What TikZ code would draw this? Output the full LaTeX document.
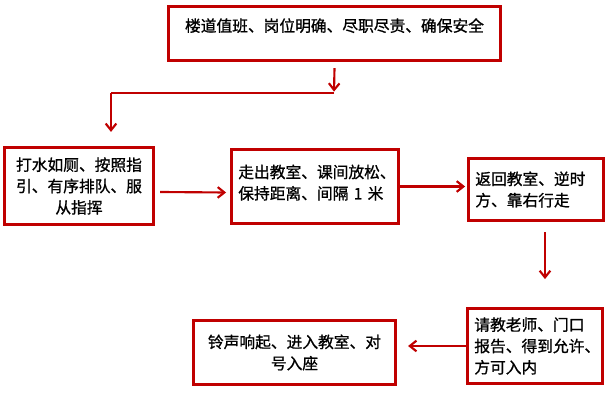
\documentclass[tikz,border=0pt]{standalone}
\usepackage{fontspec}
\setmainfont{Noto Sans CJK SC}[FakeBold=1]
\usetikzlibrary{arrows.meta,positioning,calc}
\definecolor{flowred}{RGB}{192,0,0}

\begin{document}
\begin{tikzpicture}[
    x=0.75pt, y=-0.75pt,
    stepbox/.style={rectangle, draw=flowred, line width=2.4pt, inner xsep=5pt, inner ysep=4pt, font=\fontsize{11.8pt}{16pt}\selectfont},
    arrow/.style={draw=flowred, line width=1.6pt, -{Straight Barb[length=5pt,width=8pt]}},
    link/.style={draw=flowred, line width=1.6pt}
]
\useasboundingbox (0,0) rectangle (612,406);

\node[stepbox, minimum width=249pt, minimum height=40.5pt, align=center] (duty) at (334.5,33.5) {楼道值班、岗位明确、尽职尽责、确保安全\\[-8pt] \strut};
\node[stepbox, minimum width=111.75pt, minimum height=57.75pt, align=center] (queue) at (79,186) {打水如厕、按照指\\引、有序排队、服\\从指挥};
\node[stepbox, minimum width=125pt, minimum height=55.5pt, text width=115pt, align=left] (leave) at (315,186.5) {走出教室、课间放松、\\保持距离、间隔 1 米\\[-14pt] \strut};
\node[stepbox, minimum width=101pt, minimum height=46.5pt, text width=91pt, align=left] (back) at (536,189.5) {返回教室、逆时\\方、靠右行走};
\node[stepbox, minimum width=101pt, minimum height=56pt, text width=91pt, align=left] (ask) at (535,346) {请教老师、门口\\报告、得到允许、\\方可入内};
\node[stepbox, minimum width=151.5pt, minimum height=48pt, align=center] (ring) at (294.5,352.5) {铃声响起、进入教室、对\\号入座};

\coordinate (bendr) at (334,93);
\coordinate (bendl) at (111,93);
\draw[arrow, shorten >=1pt] ($(duty.south)+(0,6)$) -- (bendr);
\draw[link] (bendr) -- (bendl);
\draw[arrow, shorten >=10.5pt] (bendl) -- (bendl |- queue.north);

\draw[arrow] ($(queue.east)+(5,6)$) -- ($(leave.west)+(-4,6)$);
\draw[arrow, shorten >=1.5pt] (leave.east) -- (leave.east -| back.west);
\draw[arrow] ($(back.south)+(9,10)$) -- ($(ask.north)+(10,-28)$);
\draw[arrow] (ask.west) -- ($(ring.east |- ask.west)+(11,0)$);
\end{tikzpicture}
\end{document}
